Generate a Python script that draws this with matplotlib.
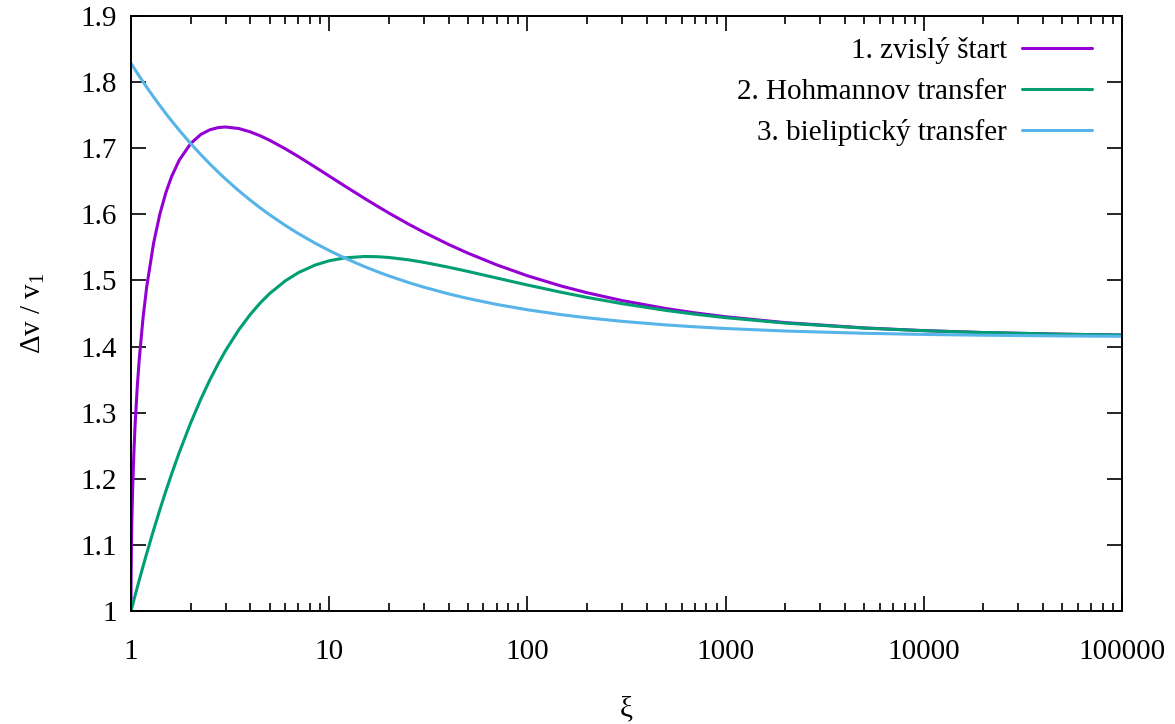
import matplotlib
matplotlib.use("Agg")
import matplotlib.pyplot as plt
from matplotlib.ticker import FixedLocator, LogLocator, NullFormatter

xi = [1, 1.0005, 1.001, 1.002, 1.005, 1.01, 1.02, 1.035, 1.05, 1.075, 1.1, 1.15, 1.2, 1.3, 1.4, 1.5,
      1.6, 1.75, 2, 2.25, 2.5, 2.75, 3, 3.5, 4, 4.5, 5, 6, 7, 8.5, 10, 12, 15, 17.5, 20, 25, 30, 40,
      50, 70, 100, 150, 200, 300, 500, 700, 1000, 2000, 5000, 10000, 20000, 50000, 100000]

zvisly = [1.0, 1.0314, 1.0442, 1.0622, 1.0973, 1.1358, 1.1882, 1.2430, 1.2845, 1.3380, 1.3799, 1.4433,
          1.4902, 1.5564, 1.6011, 1.6330, 1.6566, 1.6818, 1.7071, 1.7208, 1.7279, 1.7312, 1.7321,
          1.7298, 1.7247, 1.7186, 1.7121, 1.6992, 1.6873, 1.6714, 1.6579, 1.6427, 1.6245, 1.6123,
          1.6020, 1.5856, 1.5730, 1.5545, 1.5414, 1.5236, 1.5071, 1.4911, 1.4814, 1.4696, 1.4575,
          1.4510, 1.4451, 1.4362, 1.4282, 1.4241, 1.4212, 1.4187, 1.4174]

hohmann = [1.0, 1.00025, 1.0005, 1.0010, 1.00249, 1.00496, 1.00985, 1.01705, 1.02410, 1.03550, 1.04651,
           1.06741, 1.08695, 1.12242, 1.15376, 1.18164, 1.20659, 1.23942, 1.28446, 1.32039, 1.34959,
           1.37370, 1.39385, 1.42539, 1.44868, 1.46634, 1.48001, 1.49934, 1.51186, 1.52333, 1.52977,
           1.53418, 1.53622, 1.53591, 1.53473, 1.53128, 1.52742, 1.52005, 1.51370, 1.50368, 1.49312,
           1.48177, 1.47435, 1.46489, 1.45469, 1.44898, 1.44372, 1.43552, 1.42793, 1.42400, 1.42118,
           1.41865, 1.41736]

bielipticky = [1.82843, 1.82832, 1.82822, 1.82801, 1.82740, 1.82637, 1.82435, 1.82136, 1.81844, 1.81372,
               1.80915, 1.80047, 1.79234, 1.77750, 1.76429, 1.75242, 1.74168, 1.72733, 1.70711, 1.69036,
               1.67619, 1.66400, 1.65336, 1.63562, 1.62132, 1.60948, 1.59946, 1.58332, 1.57077, 1.55629,
               1.54520, 1.53379, 1.52116, 1.51323, 1.50683, 1.49706, 1.48984, 1.47971, 1.47279, 1.46372,
               1.45564, 1.44804, 1.44350, 1.43813, 1.43274, 1.42987, 1.42731, 1.42348, 1.42007, 1.41836,
               1.41714, 1.41607, 1.41552]

labels = ["1. zvislý štart", "2. Hohmannov transfer", "3. bieliptický transfer"]
colors = ["#9400d3", "#009e73", "#56b4e9"]

x_ticks = [1, 10, 100, 1000, 10000, 100000]
x_ticklabels = ["1", "10", "100", "1000", "10000", "100000"]
y_ticks = [1.0, 1.1, 1.2, 1.3, 1.4, 1.5, 1.6, 1.7, 1.8, 1.9]
y_ticklabels = ["1", "1.1", "1.2", "1.3", "1.4", "1.5", "1.6", "1.7", "1.8", "1.9"]

plt.rcParams['font.family'] = ['Liberation Serif', 'DejaVu Serif']
plt.rcParams['mathtext.fontset'] = 'custom'
plt.rcParams['mathtext.rm'] = 'Liberation Serif'
plt.rcParams['mathtext.default'] = 'regular'

fig = plt.figure(figsize=(11.75, 7.24), dpi=100)
ax = fig.add_axes([131/1175, 1 - 611/724, (1122-131)/1175, (611-16)/724])

for ys, lab, c in zip([zvisly, hohmann, bielipticky], labels, colors):
    ax.plot(xi, ys, color=c, lw=2.2, label=lab, solid_joinstyle='round', solid_capstyle='round')

ax.set_xscale('log')
ax.set_xlim(1, 100000)
ax.set_ylim(1, 1.9)
ax.xaxis.set_major_locator(FixedLocator(x_ticks))
ax.set_xticklabels(x_ticklabels)
ax.xaxis.set_minor_locator(LogLocator(base=10, subs=range(2, 10), numticks=20))
ax.xaxis.set_minor_formatter(NullFormatter())
ax.set_yticks(y_ticks)
ax.set_yticklabels(y_ticklabels)

fs = 21
ax.tick_params(which='both', direction='in', top=True, right=True, width=1.2, labelsize=fs)
ax.tick_params(which='major', length=10.5)
ax.tick_params(which='minor', length=5.5)
ax.tick_params(axis='x', which='major', pad=20)
ax.tick_params(axis='y', which='major', pad=10)
for s in ax.spines.values():
    s.set_linewidth(1.4)

ax.set_xlabel('ξ', fontsize=fs, labelpad=23)
ax.set_ylabel('Δv / v$_1$', fontsize=fs, labelpad=24)

leg = ax.legend(loc='upper right', bbox_to_anchor=(0.976, 0.975), frameon=False, markerfirst=False,
                fontsize=fs, handlelength=2.43, handletextpad=0.51, labelspacing=0.5,
                borderaxespad=0.0, borderpad=0.2)

fig.savefig('out.png', dpi=100)
